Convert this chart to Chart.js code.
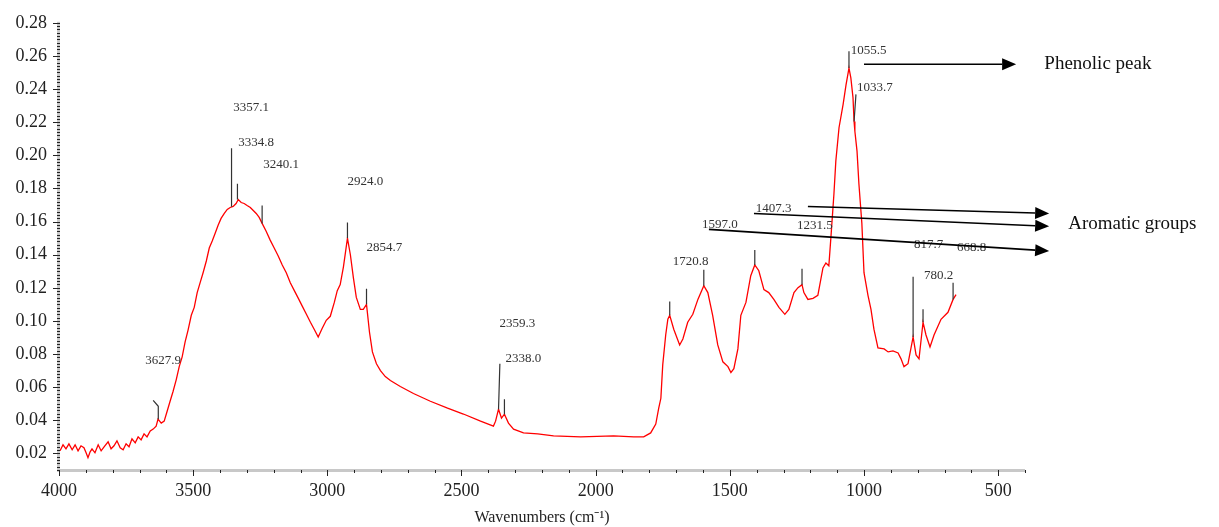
<!DOCTYPE html>
<html lang="en">
<head>
  <meta charset="UTF-8" />
  <title>FTIR spectrum</title>
  <script src="https://cdn.jsdelivr.net/npm/chart.js"></script>
  <style>
    html, body { margin: 0; padding: 0; background: #fff; }
    #wrap { width: 1219px; height: 527px; }
  </style>
</head>
<body>
<div id="wrap"><canvas id="spectrum" width="1219" height="527"></canvas></div>

<script>
  // Spectrum: wavenumber (cm-1) and absorbance
  const wavenumbers = [
    3996, 3985, 3974, 3963, 3951, 3940, 3929, 3918, 3907, 3899,
    3892, 3884, 3877, 3866, 3854, 3843, 3832, 3817, 3806, 3795,
    3784, 3772, 3761, 3750, 3739, 3728, 3716, 3705, 3694, 3683,
    3672, 3660, 3649, 3638, 3631, 3619, 3608, 3597, 3586, 3575,
    3563, 3552, 3541, 3530, 3519, 3507, 3496, 3485, 3474, 3463,
    3451, 3440, 3429, 3418, 3407, 3396, 3384, 3373, 3362, 3351,
    3340, 3332, 3321, 3310, 3299, 3287, 3276, 3265, 3254, 3243,
    3228, 3213, 3198, 3183, 3168, 3153, 3138, 3123, 3108, 3093,
    3078, 3063, 3049, 3034, 3019, 3004, 2989, 2974, 2963, 2952,
    2940, 2925, 2914, 2903, 2892, 2877, 2866, 2854, 2843, 2832,
    2817, 2802, 2784, 2765, 2728, 2679, 2616, 2552, 2493, 2429,
    2381, 2373, 2362, 2351, 2340, 2325, 2306, 2269, 2216, 2157,
    2056, 1933, 1858, 1821, 1795, 1776, 1765, 1757, 1750, 1739,
    1731, 1724, 1709, 1687, 1675, 1657, 1638, 1619, 1597, 1582,
    1564, 1545, 1526, 1507, 1496, 1485, 1470, 1459, 1440, 1422,
    1407, 1392, 1373, 1355, 1336, 1317, 1295, 1280, 1261, 1246,
    1231, 1224, 1209, 1190, 1172, 1153, 1142, 1131, 1123, 1112,
    1105, 1093, 1078, 1067, 1056, 1049, 1041, 1037, 1034, 1026,
    1019, 1008, 1000, 985, 974, 963, 948, 925, 910, 892,
    873, 862, 851, 836, 817, 806, 795, 780, 769, 754,
    739, 713, 687, 668, 657
  ];
  const absorbance = [
    0.0216, 0.0252, 0.0228, 0.0258, 0.0222, 0.0252, 0.0216, 0.0246, 0.0234, 0.0204,
    0.0174, 0.0210, 0.0228, 0.0204, 0.0252, 0.0216, 0.0240, 0.0270, 0.0228, 0.0246,
    0.0276, 0.0234, 0.0222, 0.0258, 0.0240, 0.0288, 0.0264, 0.0300, 0.0282, 0.0318,
    0.0300, 0.0336, 0.0347, 0.0365, 0.0407, 0.0383, 0.0395, 0.0455, 0.0515, 0.0574,
    0.0646, 0.0724, 0.0783, 0.0873, 0.0945, 0.1034, 0.1082, 0.1171, 0.1231, 0.1291,
    0.1362, 0.1440, 0.1482, 0.1529, 0.1577, 0.1619, 0.1649, 0.1673, 0.1685, 0.1691,
    0.1709, 0.1733, 0.1715, 0.1709, 0.1697, 0.1685, 0.1667, 0.1649, 0.1625, 0.1589,
    0.1542, 0.1488, 0.1440, 0.1392, 0.1338, 0.1291, 0.1231, 0.1183, 0.1136, 0.1088,
    0.1040, 0.0992, 0.0950, 0.0903, 0.0956, 0.1004, 0.1028, 0.1112, 0.1183, 0.1219,
    0.1327, 0.1500, 0.1398, 0.1261, 0.1142, 0.1070, 0.1070, 0.1100, 0.0933, 0.0813,
    0.0741, 0.0700, 0.0664, 0.0640, 0.0604, 0.0562, 0.0515, 0.0473, 0.0438, 0.0395,
    0.0365, 0.0395, 0.0467, 0.0413, 0.0437, 0.0383, 0.0347, 0.0324, 0.0318, 0.0306,
    0.0300, 0.0306, 0.0300, 0.0300, 0.0324, 0.0377, 0.0473, 0.0533, 0.0736, 0.0915,
    0.1010, 0.1034, 0.0950, 0.0855, 0.0891, 0.0992, 0.1040, 0.1130, 0.1213, 0.1171,
    0.1034, 0.0855, 0.0753, 0.0724, 0.0688, 0.0712, 0.0831, 0.1034, 0.1112, 0.1273,
    0.1338, 0.1303, 0.1189, 0.1171, 0.1130, 0.1082, 0.1040, 0.1070, 0.1171, 0.1201,
    0.1219, 0.1171, 0.1130, 0.1136, 0.1154, 0.1320, 0.1350, 0.1333, 0.1512, 0.1768,
    0.1965, 0.2168, 0.2306, 0.2425, 0.2527, 0.2467, 0.2348, 0.2204, 0.2145, 0.2025,
    0.1828, 0.1589, 0.1291, 0.1153, 0.1070, 0.0950, 0.0837, 0.0831, 0.0813, 0.0819,
    0.0807, 0.0771, 0.0724, 0.0742, 0.0903, 0.0795, 0.0771, 0.0992, 0.0915, 0.0843,
    0.0915, 0.1010, 0.1052, 0.1130, 0.1159
  ];

  const xTicks = [4000, 3500, 3000, 2500, 2000, 1500, 1000, 500];
  const yTicks = [0.02, 0.04, 0.06, 0.08, 0.10, 0.12, 0.14, 0.16, 0.18, 0.20, 0.22, 0.24, 0.26, 0.28];

  // peak marker lines: wavenumber, value at curve, value at top, wavenumber at top
  const markW    = [3357, 3335, 3243, 2925, 2854, 2362, 2340, 1724, 1597, 1407, 1231, 1056, 1037, 817, 780, 668];
  const markLow  = [0.169, 0.1733, 0.1589, 0.150, 0.110, 0.0467, 0.0437, 0.1034, 0.1213, 0.1338, 0.1219, 0.2527, 0.2204, 0.0903, 0.0992, 0.113];
  const markHigh = [0.2043, 0.1828, 0.1697, 0.1594, 0.1195, 0.0741, 0.0527, 0.1118, 0.1309, 0.1428, 0.1315, 0.2628, 0.2368, 0.1267, 0.107, 0.1231];
  const markTopW = [3357, 3335, 3243, 2925, 2854, 2357, 2340, 1724, 1597, 1407, 1231, 1056, 1030, 817, 780, 668];

  // peak labels (left edge wavenumber, vertical centre value)
  const peakText = ['3357.1', '3334.8', '3240.1', '2924.0', '2854.7', '2359.3', '2338.0', '3627.9',
                    '1720.8', '1597.0', '1407.3', '1231.5', '1055.5', '1033.7', '817.7', '668.8', '780.2'];
  const peakTextW = [3351, 3332, 3239, 2925, 2854, 2358, 2336, 3679, 1713, 1604, 1403, 1250, 1049, 1026, 814, 653, 776];
  const peakTextA = [0.2288, 0.2079, 0.1941, 0.1840, 0.1440, 0.0986, 0.0771, 0.0759,
                     0.1356, 0.1583, 0.1679, 0.1577, 0.2634, 0.2407, 0.1464, 0.1440, 0.1273];

  // arrows: start (w, a) -> tip (w, a)
  const arrowFromW = [1000, 1209, 1410, 1578];
  const arrowFromA = [0.255, 0.1691, 0.1649, 0.1553];
  const arrowToW   = [433, 310, 310, 310];
  const arrowToA   = [0.255, 0.1649, 0.1571, 0.1422];

  const groupText = ['Phenolic peak', 'Aromatic groups'];
  const groupW = [328, 239];
  const groupA = [0.255, 0.1583];

  const points = wavenumbers.map((w, i) => ({ x: w, y: absorbance[i] }));

  // axis bands, minor ticks and annotations
  const decor = {
    id: 'decor',
    afterDraw(chart) {
      const { ctx, chartArea: a, scales: { x, y } } = chart;
      ctx.save();

      ctx.fillStyle = '#c8c8c8';
      ctx.fillRect(a.left - 2, a.top - 1, 3, a.bottom - a.top + 3);
      ctx.fillRect(a.left - 2, a.bottom - 1, a.right - a.left + 2, 3);

      ctx.strokeStyle = '#222';
      ctx.lineWidth = 1;
      ctx.beginPath();
      for (let i = 5; i <= 140; i++) {
        const py = Math.round(y.getPixelForValue(i / 500)) + 0.5;
        const len = i % 10 === 0 ? 7 : 3;
        ctx.moveTo(a.left + 1, py);
        ctx.lineTo(a.left + 1 - len, py);
      }
      for (let w = 400; w <= 4000; w += 100) {
        const px = Math.round(x.getPixelForValue(w)) + 0.5;
        const len = w % 500 === 0 ? 6 : 3;
        ctx.moveTo(px, a.bottom);
        ctx.lineTo(px, a.bottom + len);
      }
      ctx.stroke();

      // peak markers
      ctx.strokeStyle = '#333';
      ctx.lineWidth = 1.2;
      ctx.beginPath();
      markW.forEach((w, i) => {
        ctx.moveTo(x.getPixelForValue(w), y.getPixelForValue(markLow[i]));
        ctx.lineTo(x.getPixelForValue(markTopW[i]), y.getPixelForValue(markHigh[i]));
      });
      // 3627.9 hooked marker
      ctx.moveTo(x.getPixelForValue(3630), y.getPixelForValue(0.0407));
      ctx.lineTo(x.getPixelForValue(3630), y.getPixelForValue(0.0485));
      ctx.lineTo(x.getPixelForValue(3649), y.getPixelForValue(0.052));
      ctx.stroke();

      // peak labels
      ctx.fillStyle = '#333';
      ctx.font = '13px "Liberation Serif"';
      ctx.textAlign = 'left';
      ctx.textBaseline = 'middle';
      peakText.forEach((t, i) => {
        ctx.fillText(t, x.getPixelForValue(peakTextW[i]), y.getPixelForValue(peakTextA[i]));
      });

      // arrows
      ctx.strokeStyle = '#000';
      ctx.fillStyle = '#000';
      ctx.lineWidth = 1.6;
      arrowFromW.forEach((w, i) => {
        const x0 = x.getPixelForValue(w), y0 = y.getPixelForValue(arrowFromA[i]);
        const x1 = x.getPixelForValue(arrowToW[i]), y1 = y.getPixelForValue(arrowToA[i]);
        const ang = Math.atan2(y1 - y0, x1 - x0);
        const hl = 14, hw = 6;
        const bx = x1 - hl * Math.cos(ang), by = y1 - hl * Math.sin(ang);
        ctx.beginPath();
        ctx.moveTo(x0, y0);
        ctx.lineTo(bx, by);
        ctx.stroke();
        ctx.beginPath();
        ctx.moveTo(x1, y1);
        ctx.lineTo(bx + hw * Math.sin(ang), by - hw * Math.cos(ang));
        ctx.lineTo(bx - hw * Math.sin(ang), by + hw * Math.cos(ang));
        ctx.closePath();
        ctx.fill();
      });

      ctx.fillStyle = '#111';
      ctx.font = '19px "Liberation Serif"';
      groupText.forEach((t, i) => {
        ctx.fillText(t, x.getPixelForValue(groupW[i]), y.getPixelForValue(groupA[i]));
      });

      ctx.restore();
    }
  };

  new Chart(document.getElementById('spectrum').getContext('2d'), {
    type: 'line',
    data: {
      datasets: [{
        data: points,
        borderColor: '#ff0000',
        borderWidth: 1.3,
        pointRadius: 0,
        tension: 0,
        fill: false
      }]
    },
    options: {
      responsive: false,
      animation: false,
      layout: { padding: { top: 17, right: 194, left: 0, bottom: 0 } },
      plugins: { legend: { display: false }, tooltip: { enabled: false } },
      scales: {
        x: {
          type: 'linear',
          reverse: true,
          min: 400,
          max: 4000,
          afterBuildTicks: s => { s.ticks = xTicks.map(v => ({ value: v })); },
          afterFit: s => { s.height = 57; },
          grid: { display: false, drawTicks: false },
          border: { display: false },
          ticks: {
            color: '#222',
            padding: 10,
            maxRotation: 0,
            callback: v => String(v),
            font: { family: '"Liberation Serif"', size: 18 }
          },
          title: {
            display: true,
            text: 'Wavenumbers (cm⁻¹)',
            color: '#222',
            padding: { top: 0, bottom: 0 },
            font: { family: '"Liberation Serif"', size: 16 }
          }
        },
        y: {
          min: 0.01,
          max: 0.28,
          afterBuildTicks: s => { s.ticks = yTicks.map(v => ({ value: v })); },
          afterFit: s => { s.width = 59; },
          grid: { display: false, drawTicks: false },
          border: { display: false },
          ticks: {
            color: '#222',
            padding: 12,
            callback: v => v.toFixed(2),
            font: { family: '"Liberation Serif"', size: 18 }
          }
        }
      }
    },
    plugins: [decor]
  });
</script>
</body>
</html>
